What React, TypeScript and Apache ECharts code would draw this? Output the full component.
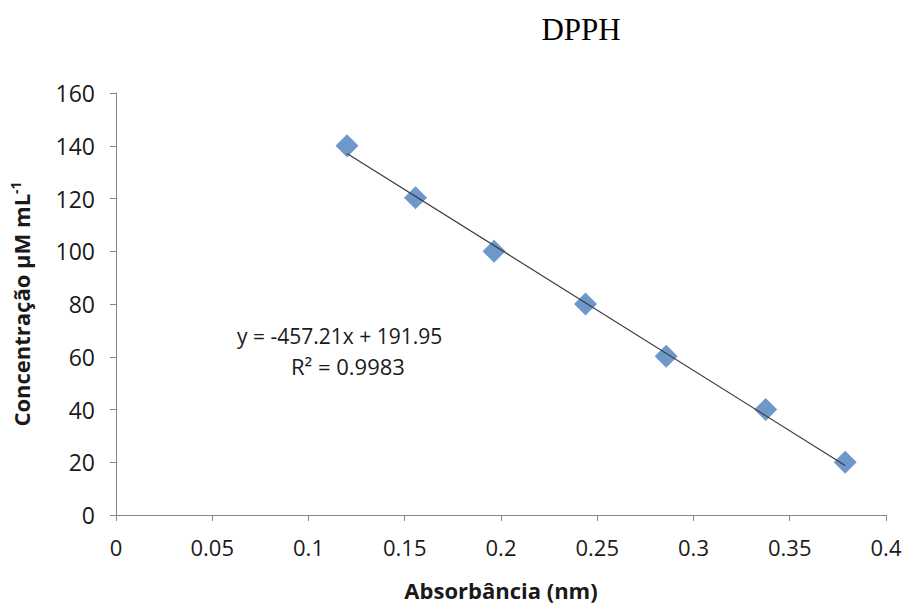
import React, { useEffect, useRef } from "react";
import * as echarts from "echarts";

const absorbance = [0.12, 0.1556, 0.1964, 0.2439, 0.2858, 0.3375, 0.3788];
const concentration = [140, 120.3, 100, 80, 60.2, 40, 20];
const slope = -457.21;
const intercept = 191.95;
const xTicks = [0, 0.05, 0.1, 0.15, 0.2, 0.25, 0.3, 0.35, 0.4];
const yTicks = [0, 20, 40, 60, 80, 100, 120, 140, 160];

export default function App() {
  const ref = useRef<HTMLDivElement>(null);
  useEffect(() => {
    if (!ref.current) return;
    const chart = echarts.init(ref.current, null, { renderer: "svg" });
    const xMin = Math.min(...absorbance);
    const xMax = Math.max(...absorbance);
    const trend = [
      [xMin, slope * xMin + intercept],
      [xMax, slope * xMax + intercept],
    ];
    const axisColor = "#868686";
    const labelFont = "'Open Sans', 'Liberation Sans', sans-serif";
    chart.setOption({
      animation: false,
      backgroundColor: "#ffffff",
      title: {
        text: "DPPH",
        left: 576,
        top: 9,
        textAlign: "center",
        textStyle: {
          fontFamily: "'Liberation Serif', 'DejaVu Serif', serif",
          fontSize: 31,
          fontWeight: "normal",
          color: "#000",
        },
      },
      grid: { left: 111, width: 775, top: 93, height: 424 },
      xAxis: {
        type: "value",
        min: 0,
        max: 0.4,
        interval: 0.05,
        name: "Absorbância (nm)",
        nameLocation: "middle",
        nameGap: 64,
        nameTextStyle: {
          fontFamily: labelFont,
          fontSize: 22,
          fontWeight: "bold",
          color: "#1a1a1a",
        },
        axisLine: { lineStyle: { color: axisColor, width: 1 } },
        axisTick: { show: true, length: 6, lineStyle: { color: axisColor } },
        splitLine: { show: false },
        axisLabel: {
          fontFamily: labelFont,
          fontSize: 22,
          color: "#1a1a1a",
          margin: 21,
          formatter: (v: number) => {
            const t = xTicks.find((k) => Math.abs(k - v) < 1e-9);
            return t === undefined ? "" : String(t);
          },
        },
      },
      yAxis: {
        type: "value",
        min: 0,
        max: 160,
        interval: 20,
        name: "{a|Concentração µM mL}{s|-1}",
        nameLocation: "middle",
        nameGap: 82,
        nameRotate: 90,
        nameTextStyle: {
          rich: {
            a: {
              fontFamily: labelFont,
              fontSize: 22,
              fontWeight: "bold",
              color: "#1a1a1a",
            },
            s: {
              fontFamily: labelFont,
              fontSize: 14,
              fontWeight: "bold",
              color: "#1a1a1a",
              verticalAlign: "top",
              padding: [0, 0, 12, 0],
            },
          },
        },
        axisLine: { show: true, lineStyle: { color: axisColor, width: 1 } },
        axisTick: { show: true, length: 6, lineStyle: { color: axisColor } },
        splitLine: { show: false },
        axisLabel: {
          fontFamily: labelFont,
          fontSize: 23,
          color: "#1a1a1a",
          margin: 21,
          formatter: (v: number) => {
            const t = yTicks.find((k) => Math.abs(k - v) < 1e-9);
            return t === undefined ? "" : String(t);
          },
        },
      },
      series: [
        {
          type: "scatter",
          data: absorbance.map((x, i) => [x, concentration[i]]),
          symbol: "diamond",
          symbolSize: 23,
          itemStyle: { color: "#4A7EBB" },
          z: 2,
        },
        {
          type: "line",
          data: trend,
          symbol: "none",
          lineStyle: { color: "#3a3a3a", width: 1.2 },
          z: 3,
        },
      ],
      graphic: [
        {
          type: "text",
          left: 237,
          top: 325,
          style: {
            text: "y = -457.21x + 191.95",
            fontFamily: labelFont,
            fontSize: 21,
            fill: "#1a1a1a",
          },
        },
        {
          type: "text",
          left: 291,
          top: 355,
          style: {
            text: "R² = 0.9983",
            fontFamily: labelFont,
            fontSize: 22,
            fill: "#1a1a1a",
          },
        },
      ],
    });
    return () => chart.dispose();
  }, []);
  return (
    <div
      ref={ref}
      style={{ position: "fixed", left: 0, top: 0, width: 909, height: 606 }}
    />
  );
}
